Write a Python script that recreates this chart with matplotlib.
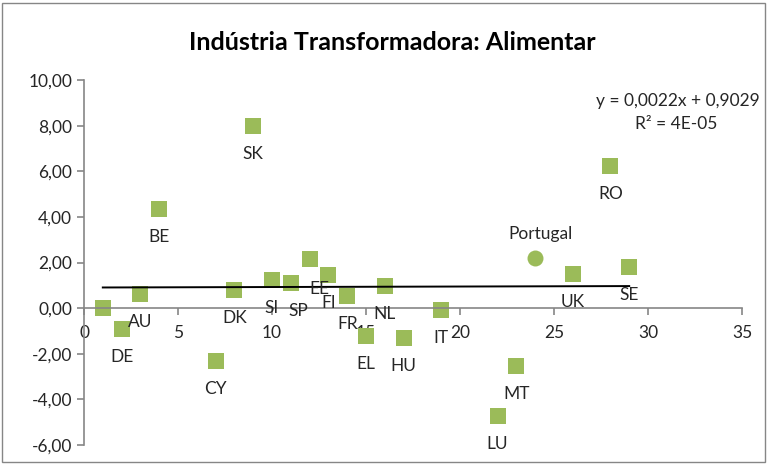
import matplotlib
matplotlib.use('Agg')
import matplotlib.pyplot as plt
import numpy as np
from matplotlib.patches import Rectangle

plt.rcParams['font.family'] = ['Lato', 'DejaVu Sans']

# data
countries = ['', 'DE', 'AU', 'BE', 'CY', 'DK', 'SK', 'SI', 'SP', 'EE', 'FI', 'FR',
             'EL', 'NL', 'HU', 'IT', 'LU', 'MT', 'UK', 'RO', 'SE']
xs = [1, 2, 3, 4, 7, 8, 9, 10, 11, 12, 13, 14, 15, 16, 17, 19, 22, 23, 26, 28, 29]
ys = [0.0, -0.92, 0.62, 4.35, -2.3, 0.8, 8.0, 1.25, 1.1, 2.15, 1.45, 0.55,
      -1.2, 0.95, -1.3, -0.1, -4.75, -2.55, 1.5, 6.25, 1.8]
pt_x = 24
pt_y = 2.2
slope = 0.0022
intercept = 0.9029
r2_text = '4E-05'

green = '#9BBB59'
axcol = '#868686'
fs = 12.5

fig = plt.figure(figsize=(7.69, 4.65), dpi=100)
ax = fig.add_axes([84/769, 1-445/465, (742-84)/769, (445-80)/465])

ax.plot(xs, ys, 's', color=green, markersize=11.5, markeredgewidth=0)
ax.plot([pt_x], [pt_y], 'o', color=green, markersize=11.5, markeredgewidth=0)

# trend line
tx = np.array([min(xs), max(xs)])
ax.plot(tx, slope*tx + intercept, color='black', linewidth=1.4)

# labels under points
shift = {'SP': (7, 0), 'EE': (10, 2)}
for c, x, y in zip(countries, xs, ys):
  if c == '':
    continue
  dx, dy = shift.get(c, (0, 0))
  ax.annotate(c, (x, y), xytext=(dx, -28 - dy), textcoords='offset pixels',
              ha='center', va='center', fontsize=fs, color='#262626')
ax.annotate('Portugal', (pt_x, pt_y), xytext=(5, 24), textcoords='offset pixels',
            ha='center', va='center', fontsize=fs, color='#262626')

ax.set_xlim(0, 35)
ax.set_ylim(-6, 10)
ax.set_xticks(range(0, 36, 5))
ax.set_yticks(range(-6, 11, 2))
ax.set_yticklabels(['{:.2f}'.format(v).replace('.', ',') for v in range(-6, 11, 2)])

ax.spines['top'].set_visible(False)
ax.spines['right'].set_visible(False)
ax.spines['bottom'].set_position(('data', 0))
for s in ['left', 'bottom']:
  ax.spines[s].set_color(axcol)
  ax.spines[s].set_linewidth(1.2)
ax.tick_params(axis='both', colors=axcol, labelcolor='#262626', labelsize=fs,
               length=5, width=1.2, direction='out')
ax.tick_params(axis='x', pad=7)
ax.patch.set_alpha(0)

fig.text(392/769, 1-42/465, 'Indústria Transformadora: Alimentar', ha='center',
         va='center', fontsize=18, fontweight='bold', color='black')
fig.text(678/769, 1-101/465, 'y = {:.4f}x + {:.4f}'.format(slope, intercept).replace('.', ','),
         ha='center', va='center', fontsize=fs, color='#262626')
fig.text(676/769, 1-124/465, 'R² = ' + r2_text, ha='center', va='center',
         fontsize=fs, color='#262626')

fig.patches.append(Rectangle((2/769, 3/465), 763/769, 459/465, transform=fig.transFigure,
                             fill=False, edgecolor=axcol, linewidth=1.0))

fig.savefig('out.png', dpi=100)
